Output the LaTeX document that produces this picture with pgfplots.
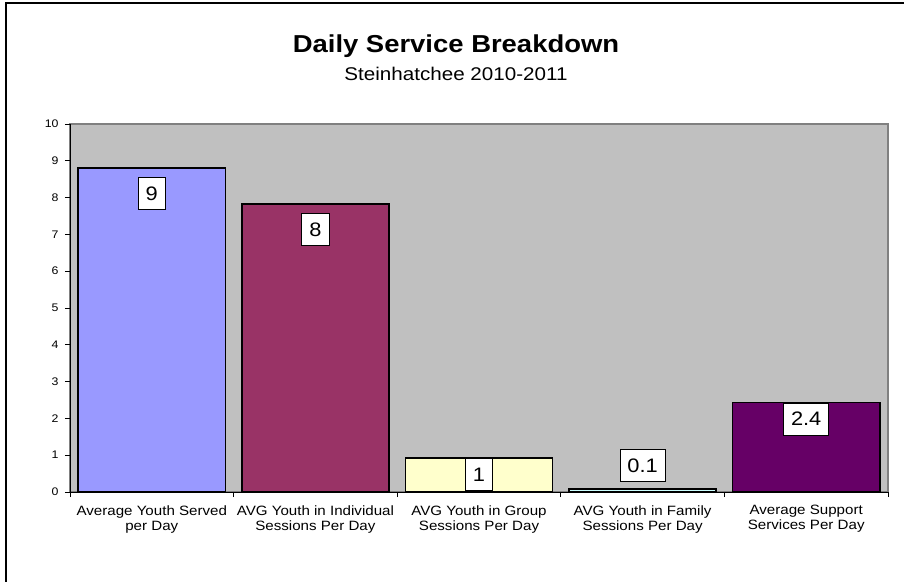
\documentclass[border=0pt]{standalone}
\usepackage{fontspec}
\setmainfont{Liberation Sans}[FakeStretch=1.12]
\usepackage{pgfplots}
\pgfplotsset{compat=1.18}

\definecolor{plotgray}{HTML}{C0C0C0}
\definecolor{barA}{HTML}{9999FF}
\definecolor{barB}{HTML}{993366}
\definecolor{barC}{HTML}{FFFFCC}
\definecolor{barD}{HTML}{CCFFFF}
\definecolor{barE}{HTML}{660066}

\tikzset{
  valbox/.style={fill=white, draw=black, line width=0.8pt, text=black,
    font=\fontsize{19.5}{20}\selectfont, inner xsep=7.5pt, inner ysep=0pt,
    minimum height=32pt},
}

\begin{document}
\begin{tikzpicture}
\path[use as bounding box] (0pt,0pt) rectangle (904pt,-581pt);
\draw[line width=2pt] (6pt,-582pt) -- (6pt,-3pt) -- (905pt,-3pt);
\node[anchor=base, font=\fontsize{24.5}{28}\selectfont\bfseries] at (456pt,-52pt) {Daily Service Breakdown};
\node[anchor=base, font=\fontsize{18.4}{21}\selectfont] at (456pt,-80pt) {Steinhatchee 2010-2011};

\begin{axis}[
    at={(70pt,-492pt)}, anchor=south west,
    scale only axis,
    width=818pt, height=368pt,
    xmin=-0.5, xmax=4.5,
    ymin=0, ymax=10,
    ybar, bar width=0.9, bar shift=0pt,
    clip=false,
    axis lines*=left,
    axis line style={-, black, line width=1pt},
    axis background/.style={fill=plotgray, draw=gray, line width=1.2pt},
    tick align=outside,
    major tick length=5pt,
    tick style={black, line width=0.8pt},
    /pgf/number format/assume math mode=true,
    ytick={0,1,2,3,4,5,6,7,8,9,10},
    yticklabel style={font=\fontsize{11}{12}\selectfont, xshift=-3pt},
    xtick={0,1,2,3,4},
    major x tick style={draw=none},
    xticklabels={{Average Youth Served\\per Day},
                 {AVG Youth in Individual\\Sessions Per Day},
                 {AVG Youth in Group\\Sessions Per Day},
                 {AVG Youth in Family\\Sessions Per Day},
                 {Average Support\\Services Per Day}},
    xticklabel style={align=center, font=\fontsize{13.5}{15}\selectfont, yshift=-5pt},
    extra x ticks={-0.5,0.5,1.5,2.5,3.5,4.5},
    extra x tick labels={},
    extra x tick style={major x tick style={draw=black, line width=0.8pt}},
    point meta=explicit symbolic,
    nodes near coords,
]
\addplot[fill=barA, draw=black, line width=1.5pt,
  nodes near coords style={valbox, anchor=north, yshift=-9pt}]
  coordinates {(0,8.8) [9]};
\addplot[fill=barB, draw=black, line width=1.5pt,
  nodes near coords style={valbox, anchor=north, yshift=-9pt}]
  coordinates {(1,7.82) [8]};
\addplot[fill=barC, draw=black, line width=1.5pt,
  nodes near coords style={valbox, anchor=north, yshift=0pt}]
  coordinates {(2,0.92) [1]};
\addplot[fill=barD, draw=black, line width=1.5pt,
  nodes near coords style={valbox, anchor=south, yshift=7pt}]
  coordinates {(3,0.08) [0.1]};
\addplot[fill=barE, draw=black, line width=1.5pt,
  nodes near coords style={valbox, anchor=north, yshift=0pt}]
  coordinates {(4,2.43) [2.4]};
\end{axis}
\end{tikzpicture}
\end{document}
